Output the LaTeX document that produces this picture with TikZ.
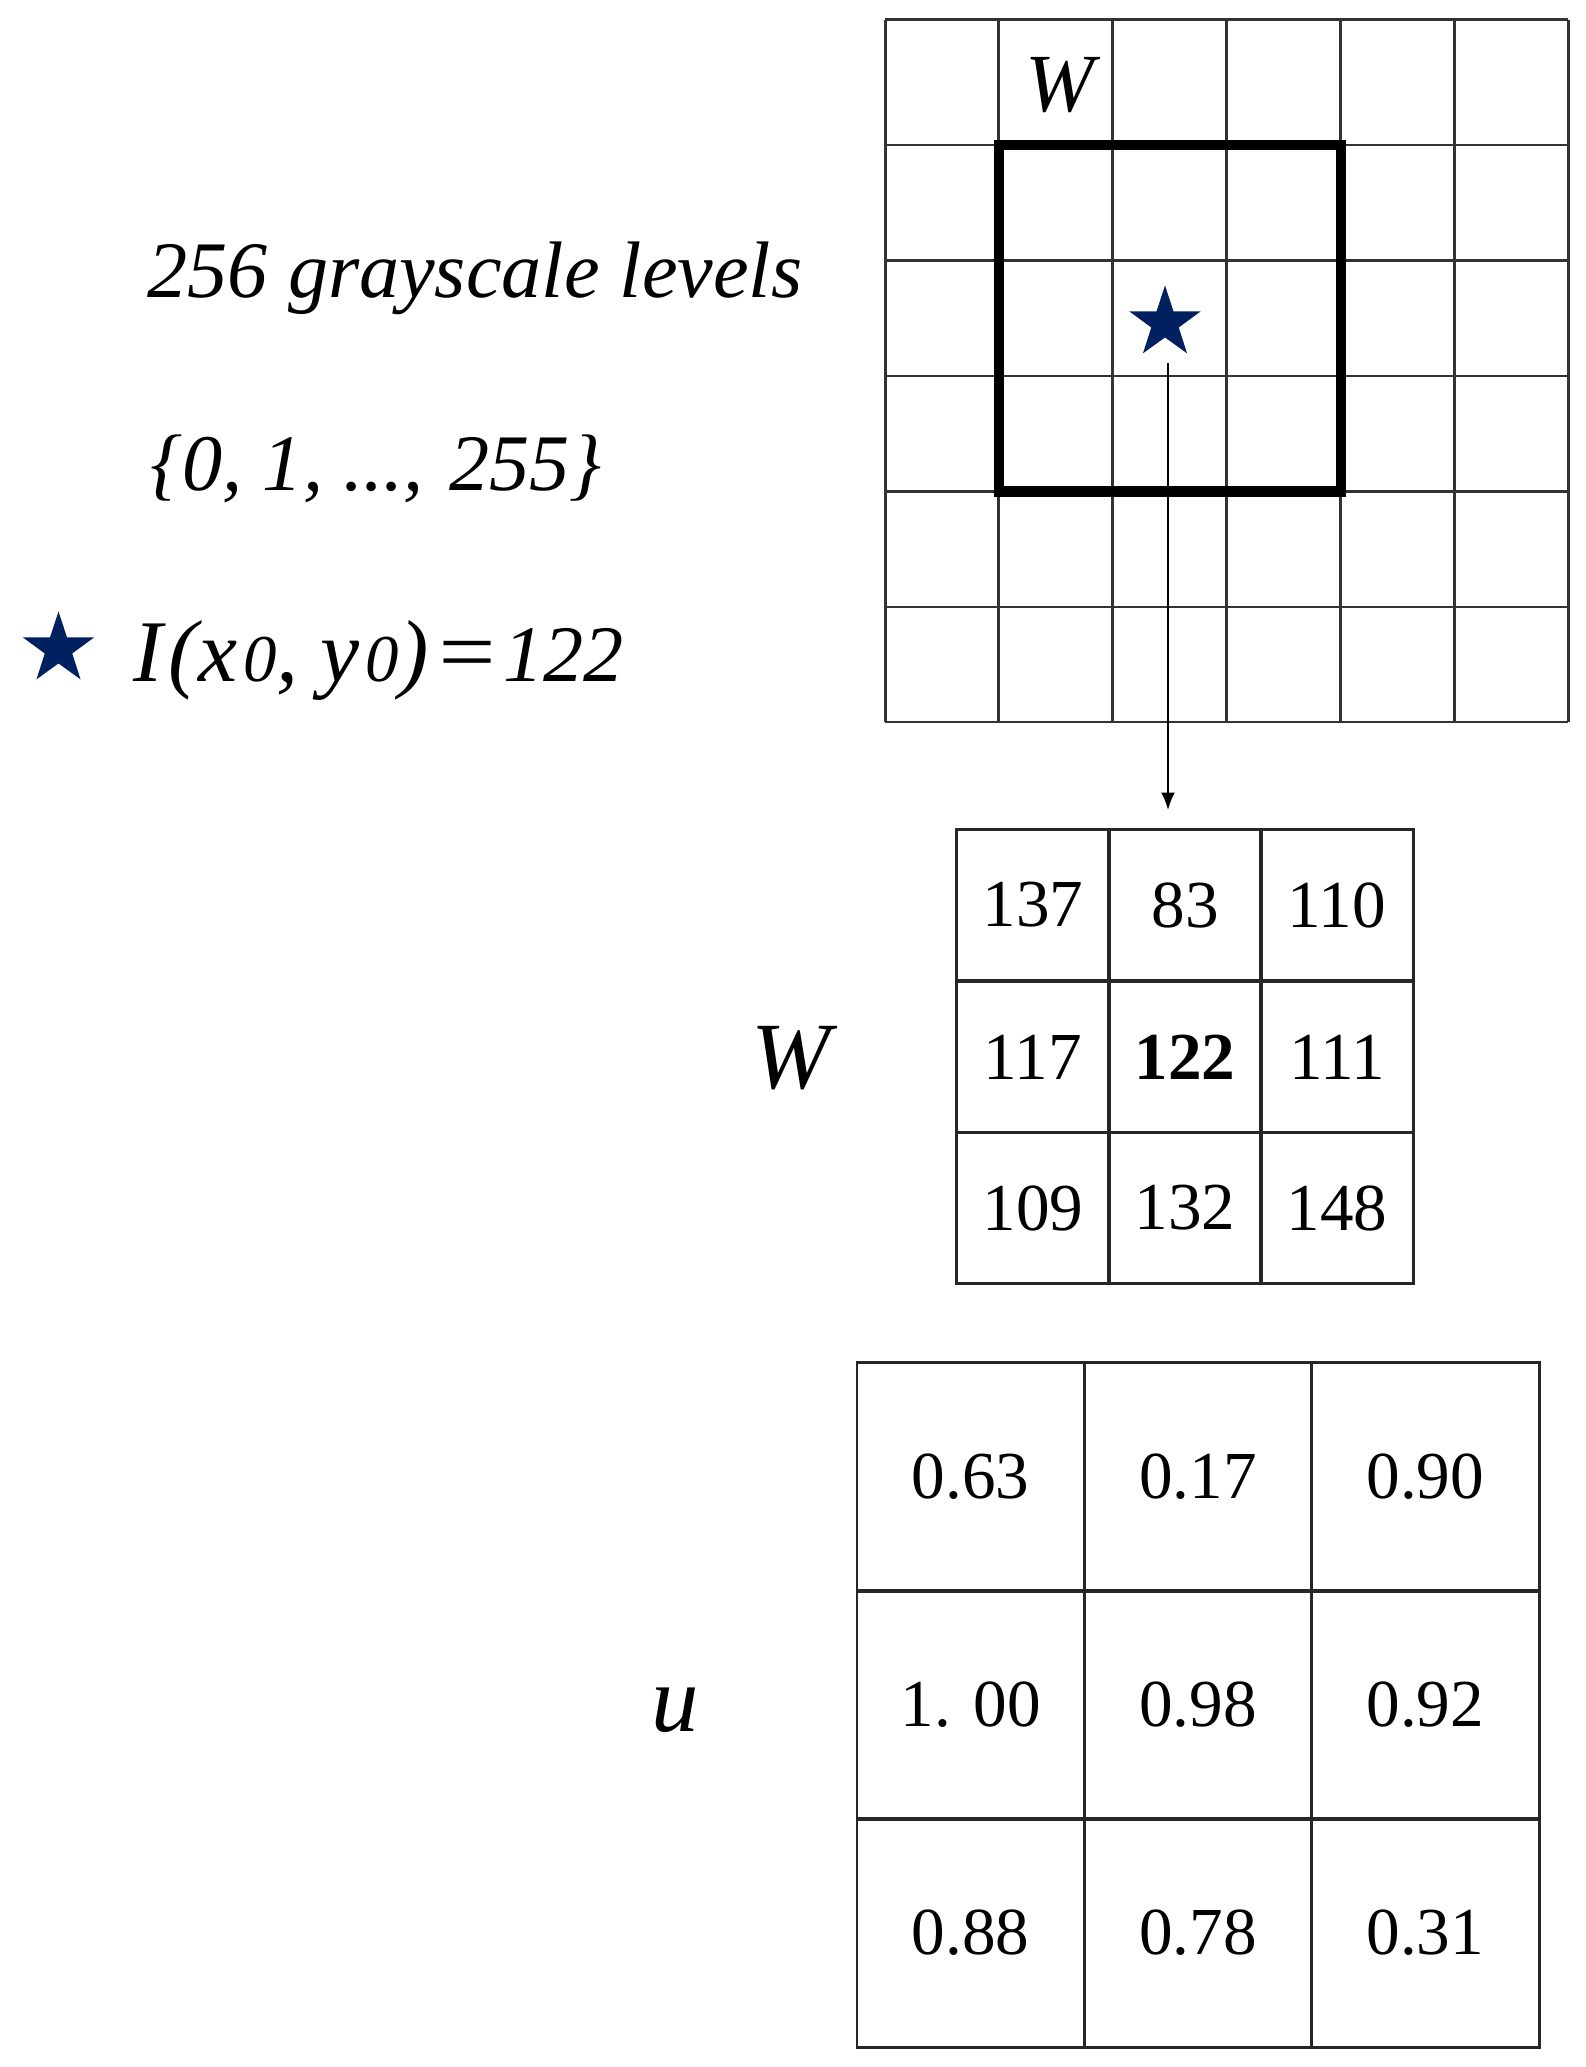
\documentclass[tikz,border=0pt]{standalone}
\usepackage{fontspec}
\setmainfont{Liberation Serif}
\usetikzlibrary{shapes.geometric, arrows.meta}
\definecolor{navy}{HTML}{002060}
\begin{document}
\begin{tikzpicture}[x=0.01cm, y=-0.01cm,
  gridline/.style={draw=black!80, line width=0.85pt},
  winbox/.style={draw=black, line width=3.1pt},
  numfont/.style={font=\fontsize{19.1}{22}\selectfont},
  wcell/.style={draw=black!85, line width=0.85pt, minimum width=1.52cm, minimum height=1.517cm, inner sep=0pt, outer sep=0pt, numfont},
  ucell/.style={draw=black!85, line width=0.85pt, minimum width=2.273cm, minimum height=2.28cm, inner sep=0pt, outer sep=0pt, numfont},
  lefttext/.style={anchor=base west, inner sep=0pt, font=\fontsize{22.8}{27}\selectfont\itshape},
  bigital/.style={inner sep=0pt, font=\fontsize{27}{32}\selectfont\itshape},
  starmark/.style={star, star points=5, star point ratio=2.6, fill=navy, draw=none, inner sep=0pt, minimum size=0.75cm},
  arr/.style={-{Latex[length=5pt,width=4pt]}, line width=0.65pt}
]
\useasboundingbox (0,0) rectangle (1585,2067);

% large pixel grid
\foreach \i in {0,...,6} \draw[gridline] ({885+113.83*\i},20) -- ({885+113.83*\i},722);
\foreach \y in {20,145,260.5,376,491.5,607,722} \draw[gridline] (885,\y) -- (1568,\y);
\draw[winbox] (999,145) rectangle (1341,491.5);
\node[anchor=base, inner sep=0pt, font=\fontsize{23.5}{27}\selectfont\itshape] (wgrid) at (1060,112) {W};
\node[starmark] (bigstar) at (1165,323) {};

% left texts
\node[lefttext] (t1) at (147,298) {256 grayscale levels};
\node[lefttext] (t2) at (150,490) {\{0, 1, ..., \kern0.6mm255\}};
\node[starmark] (lstar) at (58.5,649) {};
\node[lefttext] (t3) at (133,681) {{\fontsize{25}{30}\selectfont I\kern0.6mm(x\kern0.6mm{\fontsize{19}{20}\selectfont 0}, y\kern0.6mm{\fontsize{19}{20}\selectfont 0})\kern0.4mm\scalebox{1.15}[1]{=}}\kern0.3mm122};

% W table
\node[wcell] (w11) at (1033,905) {137};
\node[wcell] (w12) at (1185,905) {83};
\node[wcell] (w13) at (1337,905) {110};
\node[wcell] (w21) at (1033,1057) {117};
\node[wcell] (w22) at (1185,1057) {\bfseries 122};
\node[wcell] (w23) at (1337,1057) {111};
\node[wcell] (w31) at (1033,1208) {109};
\node[wcell] (w32) at (1185,1208) {132};
\node[wcell] (w33) at (1337,1208) {148};
\node[bigital] (wlab) at (791,1058) {W};

% u table
\node[ucell] (u11) at (970.7,1477) {0.63};
\node[ucell] (u12) at (1198,1477) {0.17};
\node[ucell] (u13) at (1425.3,1477) {0.90};
\node[ucell] (u21) at (970.7,1705) {1. 00};
\node[ucell] (u22) at (1198,1705) {0.98};
\node[ucell] (u23) at (1425.3,1705) {0.92};
\node[ucell] (u31) at (970.7,1933) {0.88};
\node[ucell] (u32) at (1198,1933) {0.78};
\node[ucell] (u33) at (1425.3,1933) {0.31};
\node[bigital] (ulab) at (675,1710) {u};

% arrow
\draw[arr, shorten <=0.4cm, shorten >=0.19cm] ([xshift=0.03cm]bigstar.center) -- ([xshift=0.03cm]bigstar.center |- w12.north);
\end{tikzpicture}
\end{document}
